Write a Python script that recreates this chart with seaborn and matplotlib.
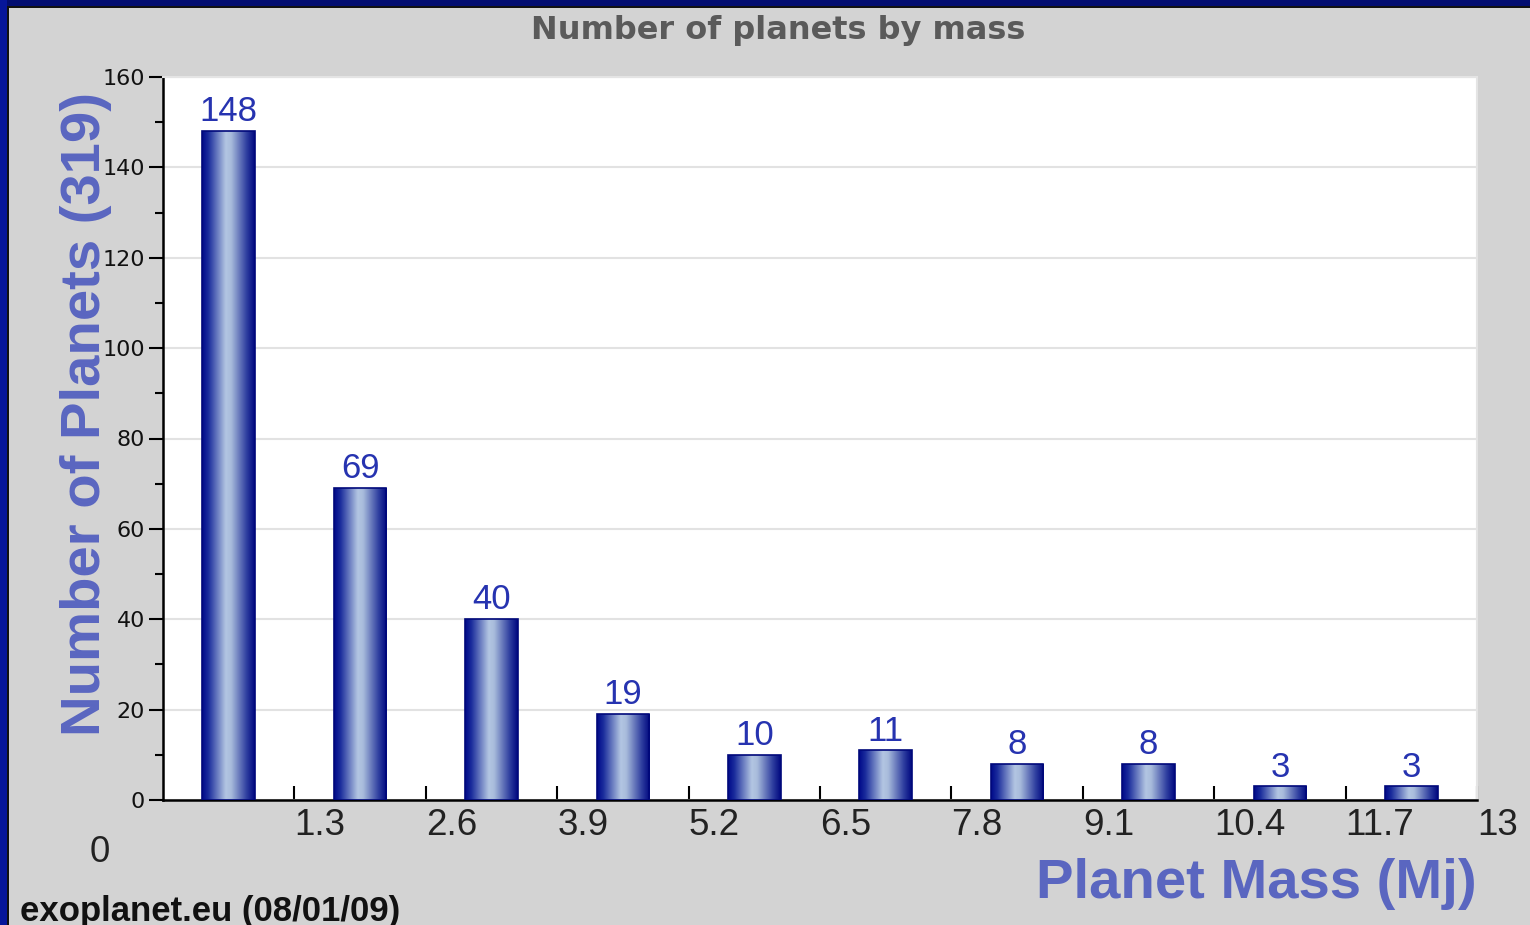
import numpy as np
import pandas as pd
import matplotlib
matplotlib.use("Agg")
import matplotlib.pyplot as plt
from matplotlib.colors import LinearSegmentedColormap
from matplotlib.patches import Rectangle
import seaborn as sns

# Histogram of planet masses (bins of 1.3 Jupiter masses)
bin_width = 1.3
bin_centers = [0.65, 1.95, 3.25, 4.55, 5.85, 7.15, 8.45, 9.75, 11.05, 12.35]
planet_counts = [148, 69, 40, 19, 10, 11, 8, 8, 3, 3]
x_tick_values = [1.3, 2.6, 3.9, 5.2, 6.5, 7.8, 9.1, 10.4, 11.7, 13]
x_tick_labels = ["1.3", "2.6", "3.9", "5.2", "6.5", "7.8", "9.1", "10.4", "11.7", "13"]
y_tick_values = [0, 20, 40, 60, 80, 100, 120, 140, 160]

title_text = "Number of planets by mass"
y_label_text = "Number of Planets (319)"
x_label_text = "Planet Mass (Mj)"
source_text = "exoplanet.eu (08/01/09)"

df = pd.DataFrame({"mass": bin_centers, "count": planet_counts})

sns.set_style("white")
plt.rcParams["font.family"] = ["Liberation Sans", "DejaVu Sans"]

W, H = 1530, 925
fig = plt.figure(figsize=(W / 100, H / 100), dpi=100)
fig.patch.set_facecolor("#d3d3d3")

# slide frame: navy strips along the top and left edges
fig.patches.append(Rectangle((0, 1 - 6 / H), 1, 6 / H, transform=fig.transFigure,
                             facecolor="#020d70", edgecolor="none", zorder=0))
fig.patches.append(Rectangle((0, 1 - 7.5 / H), 1, 1.5 / H, transform=fig.transFigure,
                             facecolor="#111111", edgecolor="none", zorder=0))
fig.patches.append(Rectangle((0, 0), 7 / W, 1, transform=fig.transFigure,
                             facecolor="#06169a", edgecolor="none", zorder=0))
fig.patches.append(Rectangle((7 / W, 0), 2 / W, 1 - 6 / H, transform=fig.transFigure,
                             facecolor="#111111", edgecolor="none", zorder=0))

left, right, top, bottom = 163, 1477, 77, 800
ax = fig.add_axes([left / W, (H - bottom) / H, (right - left) / W, (bottom - top) / H])
ax.set_facecolor("white")

sns.barplot(data=df, x="mass", y="count", native_scale=True, width=0.4,
            color="#0a1a90", edgecolor="#00087a", linewidth=1.2, ax=ax, zorder=3)

# horizontal metallic gradient inside each bar
bar_cmap = LinearSegmentedColormap.from_list(
    "bar_shine", [(0.0, "#00098a"), (0.12, "#1a2c9c"), (0.45, "#b3c6e2"),
                  (0.55, "#a9bcdc"), (0.85, "#2d3d9f"), (1.0, "#00077f")])
grad = np.linspace(0, 1, 256).reshape(1, -1)
for patch in list(ax.patches):
    x0, y0 = patch.get_x(), patch.get_y()
    w, h = patch.get_width(), patch.get_height()
    im = ax.imshow(grad, extent=(x0, x0 + w, y0, y0 + h), cmap=bar_cmap,
                   aspect="auto", origin="lower", zorder=3.5, interpolation="bicubic")
    im.set_clip_path(patch)
    patch.set_facecolor("none")
    patch.set_zorder(4)

ax.bar_label(ax.containers[0], labels=[str(v) for v in planet_counts], padding=2,
             fontsize=25, color="#2633b0", zorder=5)

ax.set_xlim(0, 13)
ax.set_ylim(0, 160)
ax.set_xlabel("")
ax.set_ylabel("")

# y axis: outward ticks, minor ticks every 10
ax.set_yticks(y_tick_values)
ax.set_yticks(np.arange(10, 160, 20), minor=True)
ax.tick_params(axis="y", which="major", direction="out", length=10, width=1.5,
               color="black", labelsize=16, labelcolor="#111111", pad=3, left=True)
ax.tick_params(axis="y", which="minor", direction="out", length=6, width=1.5,
               color="black", left=True)
for lbl in ax.get_yticklabels():
    lbl.set_family(["DejaVu Sans"])

# x axis: inward ticks with labels hung to the right of each tick
ax.set_xticks(x_tick_values)
ax.set_xticklabels(x_tick_labels)
ax.tick_params(axis="x", which="major", direction="in", length=10, width=1.5,
               color="black", labelsize=26.5, labelcolor="#222222", pad=6, bottom=True)
for lbl in ax.get_xticklabels():
    lbl.set_horizontalalignment("left")

ax.yaxis.grid(True, color="#e2e2e2", linewidth=1.5, zorder=0)
ax.xaxis.grid(False)
ax.set_axisbelow(True)

for side in ("left", "bottom"):
    ax.spines[side].set_color("black")
    ax.spines[side].set_linewidth(1.8)
for side in ("top", "right"):
    ax.spines[side].set_color("#e4e4e4")
    ax.spines[side].set_linewidth(1.5)

# origin label sits below the axis corner
fig.text(100 / W, 1 - 853 / H, "0", fontsize=26.5, color="#222222",
         ha="center", va="center")

fig.text(778 / W, 1 - 30 / H, title_text, fontsize=23, fontweight="bold",
         color="#5a5a5a", ha="center", va="center",
         family=["DejaVu Sans"])
fig.text(86 / W, 1 - 414 / H, y_label_text, fontsize=40.5, fontweight="bold",
         color="#5a66c0", ha="center", va="center", rotation=90)
fig.text(right / W, 1 - 884 / H, x_label_text, fontsize=40.5, fontweight="bold",
         color="#5a66c0", ha="right", va="center")
fig.text(20 / W, 1 - 912 / H, source_text, fontsize=25, fontweight="bold",
         color="#111111", ha="left", va="center")

fig.savefig("out.png", dpi=100, facecolor=fig.get_facecolor())
